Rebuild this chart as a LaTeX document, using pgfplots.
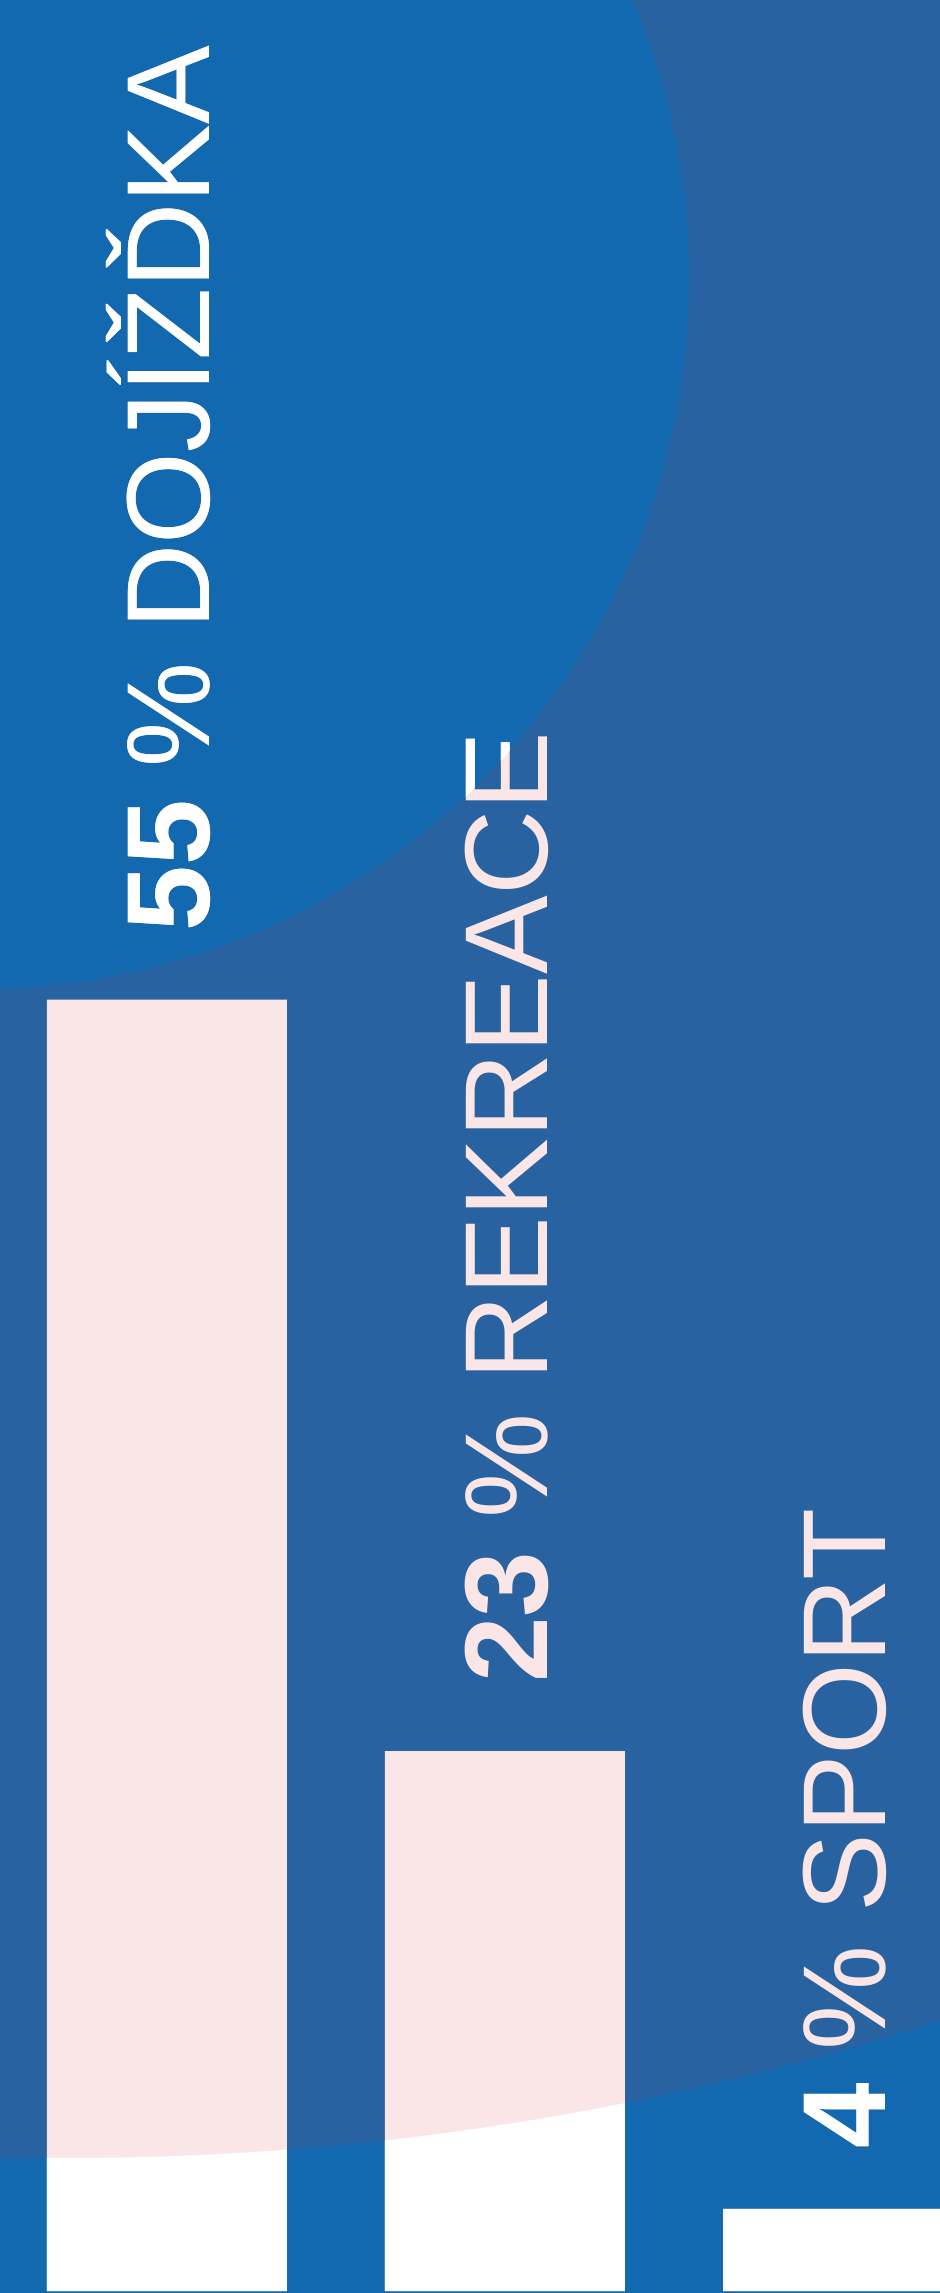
\documentclass[border=0pt]{standalone}
\usepackage{pgfplots}
\pgfplotsset{compat=1.18}
\usepackage{fontspec}
\setmainfont{Liberation Sans}
\definecolor{bgdark}{HTML}{2862A1}
\definecolor{bglight}{HTML}{1369B0}
\definecolor{barpink}{HTML}{FAE6E6}
\pgfplotsset{
  myaxis/.style={
    at={(0,0)}, anchor=south west,
    scale only axis, width=470pt, height=1146.5pt,
    hide axis,
    xmin=-0.494, xmax=2.287,
    ymin=-0.085, ymax=97.59,
    clip=true,
  }
}
\newcommand{\lblA}{{\fontsize{59}{60}\selectfont\textbf{55} \% DOJÍŽĎKA}}
\newcommand{\lblB}{{\fontsize{59}{60}\selectfont\textbf{23} \% REKREACE}}
\newcommand{\lblC}{{\fontsize{59}{60}\selectfont\textbf{4} \% SPORT}}
\begin{document}
\begin{tikzpicture}
% background
\fill[bgdark] (0,0) rectangle (470pt,1146.5pt);
\begin{scope}
\clip (0,0) rectangle (470pt,1146.5pt);
\fill[bglight] (-11pt,1007.5pt) circle[radius=355.5pt];
\fill[bglight, even odd rule] (-10pt,-10pt) rectangle (480pt,1156.5pt) (34pt,1477.5pt) circle[radius=1410pt];
\end{scope}
% pink layer
\begin{axis}[myaxis]
\addplot[ybar, bar width=0.71, fill=barpink, draw=none] coordinates {(0,55) (1,23) (2,3.5)};
\node[rotate=90, anchor=base west, inner sep=0pt, text=barpink] at ([xshift=21.5pt,yshift=34pt]axis cs:0,55) {\lblA};
\node[rotate=90, anchor=base west, inner sep=0pt, text=barpink] at ([xshift=21.5pt,yshift=34pt]axis cs:1,23) {\lblB};
\node[rotate=90, anchor=base west, inner sep=0pt, text=barpink] at ([xshift=21.5pt,yshift=30pt]axis cs:2,3.5) {\lblC};
\end{axis}
% white layer inside the light regions
\begin{scope}[even odd rule]
\clip (-10pt,-10pt) rectangle (480pt,1156.5pt) (34pt,1477.5pt) circle[radius=1410pt] (-11pt,1007.5pt) circle[radius=355.5pt];
\begin{axis}[myaxis]
\addplot[ybar, bar width=0.71, fill=white, draw=none] coordinates {(0,55) (1,23) (2,3.5)};
\node[rotate=90, anchor=base west, inner sep=0pt, text=white] at ([xshift=21.5pt,yshift=34pt]axis cs:0,55) {\lblA};
\node[rotate=90, anchor=base west, inner sep=0pt, text=white] at ([xshift=21.5pt,yshift=34pt]axis cs:1,23) {\lblB};
\node[rotate=90, anchor=base west, inner sep=0pt, text=white] at ([xshift=21.5pt,yshift=30pt]axis cs:2,3.5) {\lblC};
\end{axis}
\end{scope}
\pgfresetboundingbox
\useasboundingbox (0,0) rectangle (470pt,1146.5pt);
\end{tikzpicture}
\end{document}
